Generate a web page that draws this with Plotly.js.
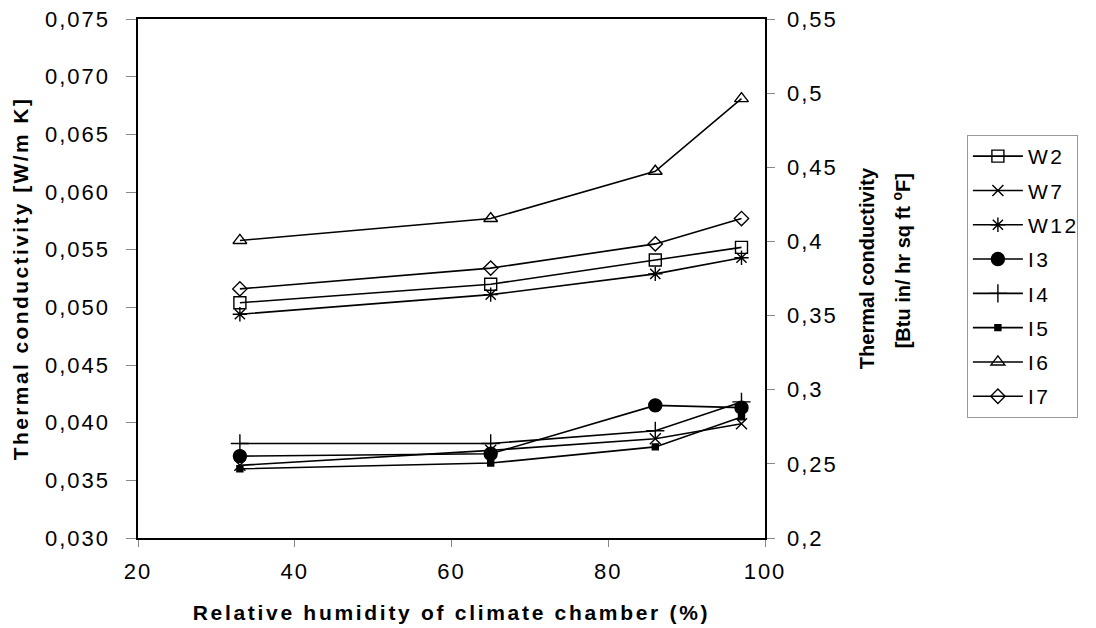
<!DOCTYPE html>
<html>
<head>
<meta charset="utf-8">
<script src="https://cdn.plot.ly/plotly-3.0.1.min.js"></script>
<style>
html,body{margin:0;padding:0;background:#fff;}
#chart{width:1096px;height:628px;}
#chart .xtick text, #chart .ytick text, #chart .y2tick text { letter-spacing: 2px; }
#chart .legendtext { letter-spacing: 2.5px; }
#chart .xtitle { letter-spacing: 2.7px; }
#chart .ytitle { letter-spacing: 2.4px; }
</style>
</head>
<body>
<div id="chart"></div>
<script>
const humidity = [33, 65, 86, 97];
const seriesNames = ["W2", "W7", "W12", "I3", "I4", "I5", "I6", "I7"];
const W2  = [0.0504, 0.0520, 0.0541, 0.0552];
const W7  = [0.0363, 0.0376, 0.0386, 0.0399];
const W12 = [0.0494, 0.0511, 0.0529, 0.0543];
const I3  = [0.0371, 0.0373, 0.0415, 0.0413];
const I4  = [0.0382, 0.0382, 0.0393, 0.0418];
const I5  = [0.0360, 0.0365, 0.0379, 0.0405];
const I6  = [0.0558, 0.0577, 0.0618, 0.0681];
const I7  = [0.0516, 0.0534, 0.0555, 0.0577];
const leftTicks = [0.030, 0.035, 0.040, 0.045, 0.050, 0.055, 0.060, 0.065, 0.070, 0.075];
const rightTicks = [0.2, 0.25, 0.3, 0.35, 0.4, 0.45, 0.5, 0.55];
const xTicks = [20, 40, 60, 80, 100];
const rightTitleLines = ["Thermal conductivity", "[Btu in/ hr sq ft <sup>o</sup>F]"];

const values = [W2, W7, W12, I3, I4, I5, I6, I7];
const symbols = ["square-open", "x-thin-open", "asterisk-open", "circle", "cross-thin-open", "square", "triangle-up-open", "diamond-open"];
const sizes = [12, 11, 12, 13, 13, 6, 12, 11];

const FONT = "Liberation Sans, Arial, sans-serif";
const traces = values.map((v, i) => ({
  x: humidity, y: v, name: seriesNames[i], type: "scatter", mode: "lines+markers",
  legendgroup: "g" + i,
  line: {color: "#000", width: 1.6},
  marker: {symbol: symbols[i], size: sizes[i], color: "#000", line: {color: "#000", width: 1.4}}
}));
// right-axis carrier (no visible marks)
traces.push({x: [null], y: [null], yaxis: "y2", showlegend: false, hoverinfo: "skip", mode: "lines"});

const layout = {
  width: 1096, height: 628,
  margin: {l: 138, r: 331, t: 19, b: 90},
  paper_bgcolor: "#fff", plot_bgcolor: "#fff",
  separators: ", ",
  font: {family: FONT, color: "#000", size: 21},
  showlegend: true,
  xaxis: {
    range: [20, 100], tickvals: xTicks, ticktext: xTicks.map(String),
    showline: true, linecolor: "#000", linewidth: 1.6, mirror: true,
    ticks: "outside", ticklen: 7, tickcolor: "#888", showgrid: false, zeroline: false,
    tickfont: {size: 22}, ticklabelstandoff: 6,
    title: {text: "<b>Relative humidity of climate chamber (%)</b>", font: {size: 21}, standoff: 22}
  },
  yaxis: {
    range: [0.030, 0.075], tickvals: leftTicks, tickformat: ".3f",
    showline: true, linecolor: "#000", linewidth: 1.6,
    ticks: "outside", ticklen: 10, tickcolor: "#888", showgrid: false, zeroline: false,
    tickfont: {size: 22}, ticklabelstandoff: 12,
    title: {text: "<b>Thermal conductivity [W/m K]</b>", font: {size: 21}, standoff: 20}
  },
  yaxis2: {
    overlaying: "y", side: "right", range: [0.2, 0.55], tickvals: rightTicks,
    showline: true, linecolor: "#000", linewidth: 1.6,
    ticks: "outside", ticklen: 8, tickcolor: "#888", showgrid: false, zeroline: false,
    tickfont: {size: 22}, ticklabelstandoff: 8
  },
  annotations: rightTitleLines.map((t, i) => ({
    text: "<b>" + t + "</b>", xref: "paper", yref: "paper",
    x: [1.1627, 1.2169][i], y: [0.520, 0.535][i], xanchor: "center", yanchor: "middle",
    textangle: -90, showarrow: false, font: {size: 20, family: FONT, color: "#000"}
  })),
  legend: {
    x: 1.322, y: 0.7765, xanchor: "left", yanchor: "top",
    bordercolor: "#999", borderwidth: 1, bgcolor: "#fff",
    font: {size: 21}, tracegroupgap: 4, itemwidth: 50
  }
};

Plotly.newPlot("chart", traces, layout, {displayModeBar: false, staticPlot: true});
</script>
</body>
</html>
